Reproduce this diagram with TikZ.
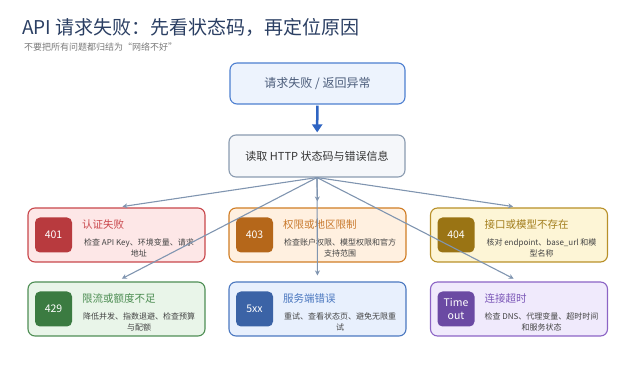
\documentclass[tikz,border=0pt]{standalone}
\usepackage{fontspec}
\setmainfont{Noto Sans CJK SC}
\usepackage{tikz}
\usetikzlibrary{arrows.meta,positioning,calc}
\usepackage{xcolor}

\definecolor{titlenavy}{HTML}{2B3F63}
\definecolor{subgrey}{HTML}{7A7A7A}
\definecolor{startfill}{HTML}{EDF3FD}
\definecolor{startline}{HTML}{4D7FD0}
\definecolor{readfill}{HTML}{F5F7FA}
\definecolor{readline}{HTML}{8A9BB0}
\definecolor{mainarrow}{HTML}{2E64C2}
\definecolor{linkgrey}{HTML}{8095B0}
\definecolor{desctext}{HTML}{444444}
% card colours: fill, border, badge, title
\definecolor{redfill}{HTML}{FDE7E7}\definecolor{redline}{HTML}{C8464B}
\definecolor{redbadge}{HTML}{B83A3E}\definecolor{redtext}{HTML}{C9474C}
\definecolor{orgfill}{HTML}{FFF0E0}\definecolor{orgline}{HTML}{D07D25}
\definecolor{orgbadge}{HTML}{B5671A}\definecolor{orgtext}{HTML}{C97A2E}
\definecolor{ylwfill}{HTML}{FDF5D6}\definecolor{ylwline}{HTML}{B89028}
\definecolor{ylwbadge}{HTML}{9A7414}\definecolor{ylwtext}{HTML}{A27D1C}
\definecolor{grnfill}{HTML}{E9F5E9}\definecolor{grnline}{HTML}{4E8E54}
\definecolor{grnbadge}{HTML}{3B7B41}\definecolor{grntext}{HTML}{4C8D52}
\definecolor{blufill}{HTML}{E8F0FD}\definecolor{bluline}{HTML}{4B78C0}
\definecolor{blubadge}{HTML}{3B63A6}\definecolor{blutext}{HTML}{4A77BF}
\definecolor{prpfill}{HTML}{F0EAFC}\definecolor{prpline}{HTML}{8C64C5}
\definecolor{prpbadge}{HTML}{6B4AA3}\definecolor{prptext}{HTML}{7C58B8}

\tikzset{
  card/.style={draw, line width=1.1pt, rounded corners=7pt, minimum width=177pt, minimum height=54pt, inner sep=0pt},
  badge/.style={rounded corners=5pt, minimum width=37pt, minimum height=35pt, inner sep=0pt, text=white, font=\fontsize{10.5}{12.5}\selectfont, align=center},
  cardtitle/.style={anchor=west, inner sep=0pt, font=\fontsize{10.5}{12}\selectfont},
  carddesc/.style={inner sep=0pt, align=center, text=desctext, font=\fontsize{8}{10.5}\selectfont},
  link/.style={draw=linkgrey, line width=1.1pt, -{Stealth[length=5pt,width=5pt]}, shorten >=6pt}
}

\begin{document}
\begin{tikzpicture}[x=1pt, y=-1pt]
            \useasboundingbox (0,0) rectangle (635,371);
            % Heading
            \node[anchor=base west, inner sep=0pt, text=titlenavy, font=\fontsize{19}{22}\selectfont] (head) at (22,35) {API 请求失败：先看状态码，再定位原因};
            \node[anchor=base west, inner sep=0pt, text=subgrey, font=\fontsize{9}{11}\selectfont] (sub) at (24,51) {不要把所有问题都归结为“网络不好”};

            % Flow
            \node[draw=startline, fill=startfill, line width=1.1pt, rounded corners=7pt, minimum width=175pt, minimum height=41pt, text=titlenavy!85, font=\fontsize{12}{14}\selectfont] (fail) at (317.5,83.5) {请求失败 / 返回异常};
            \node[draw=readline, fill=readfill, line width=1.1pt, rounded corners=7pt, minimum width=176pt, minimum height=42pt, text=black!80, font=\fontsize{11}{13}\selectfont] (read) at (317,156) {读取 HTTP 状态码与错误信息};
            \draw[mainarrow, line width=2.5pt, -{Triangle[length=8pt,width=10pt]}, shorten <=1pt, shorten >=2pt] (fail) -- (read);

            % Row 1
            \node[card, draw=redline, fill=redfill] (c401) at (116.5,235) {};
            \node[badge, fill=redbadge] (b401) at (53.5,235) {401};
            \node[cardtitle, text=redtext] (t401) at (82,225) {认证失败};
            \node[carddesc] (d401) at (139,248) {检查 API Key、环境变量、请求\\地址};

            \node[card, draw=orgline, fill=orgfill] (c403) at (317.5,235) {};
            \node[badge, fill=orgbadge] (b403) at (254.5,235) {403};
            \node[cardtitle, text=orgtext] (t403) at (283,225) {权限或地区限制};
            \node[carddesc] (d403) at (340,248) {检查账户权限、模型权限和官方\\支持范围};

            \node[card, draw=ylwline, fill=ylwfill] (c404) at (519,235) {};
            \node[badge, fill=ylwbadge] (b404) at (456,235) {404};
            \node[cardtitle, text=ylwtext] (t404) at (484.5,225) {接口或模型不存在};
            \node[carddesc] (d404) at (541.5,248) {核对 endpoint、base\_url 和模\\型名称};

            % Row 2
            \node[card, draw=grnline, fill=grnfill] (c429) at (116.5,309) {};
            \node[badge, fill=grnbadge] (b429) at (53.5,309) {429};
            \node[cardtitle, text=grntext] (t429) at (82,299) {限流或额度不足};
            \node[carddesc] (d429) at (139,322) {降低并发、指数退避、检查预算\\与配额};

            \node[card, draw=bluline, fill=blufill] (c5xx) at (317.5,309) {};
            \node[badge, fill=blubadge] (b5xx) at (254.5,309) {5xx};
            \node[cardtitle, text=blutext] (t5xx) at (283,299) {服务端错误};
            \node[carddesc] (d5xx) at (340,322) {重试、查看状态页、避免无限重\\试};

            \node[card, draw=prpline, fill=prpfill] (ctime) at (519,309) {};
            \node[badge, fill=prpbadge] (btime) at (456,309) {Time\\out};
            \node[cardtitle, text=prptext] (ttime) at (484.5,299) {连接超时};
            \node[carddesc] (dtime) at (541.5,322) {检查 DNS、代理变量、超时时间\\和服务状态};

            % Links
            \draw[link] (read.south) -- (c401.north);
            \draw[link] (read.south) -- (c403.north);
            \draw[link] (read.south) -- (c404.north);
            \draw[link] (read.south) -- (c429.north);
            \draw[link] (read.south) -- (c5xx.north);
            \draw[link] (read.south) -- (ctime.north);
        \end{tikzpicture}
\end{document}
